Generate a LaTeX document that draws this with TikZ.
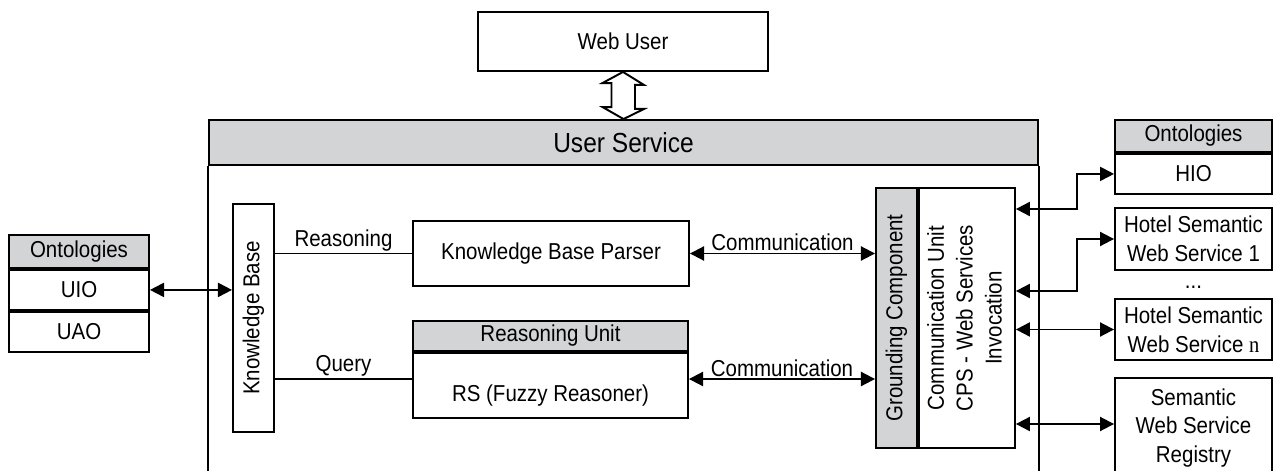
\documentclass[tikz,border=0pt]{standalone}
\usepackage{fontspec}
\setmainfont[FakeStretch=0.89]{Liberation Sans}
\newfontfamily\serifn[FakeStretch=0.89]{Liberation Serif}
\usetikzlibrary{arrows.meta}
\definecolor{hdrgray}{RGB}{211,212,214}
\tikzset{
  box/.style={draw, line width=1.1pt, inner sep=0pt, align=center, font=\fontsize{13.1}{16.4}\selectfont},
  hbox/.style={box, fill=hdrgray},
  link/.style={line width=1.1pt},
  bidir/.style={line width=1.1pt, {Triangle[length=8pt,width=8pt]}-{Triangle[length=8pt,width=8pt]}},
  tag/.style={font=\fontsize{13.1}{15}\selectfont, inner sep=1pt}
}
\begin{document}
\begin{tikzpicture}[x=0.02cm,y=-0.02cm]
\useasboundingbox (0,0) rectangle (1274,470);
\clip (0,0) rectangle (1274,470);

\node[box, minimum width=5.8cm, minimum height=1.18cm] (wu) at (623,41.5) {Web User};
\node[hbox, minimum width=16.58cm, minimum height=0.9cm, font=\fontsize{15.7}{18}\selectfont] (us) at (623.5,142.5) {User Service};
\draw[link] (us.south west) -- ++(0,400);
\draw[link] (us.south east) -- ++(0,400);
\draw[link, fill=white] (wu.south) -- ++(21,13) -- ++(-9,0) -- ++(0,24) -- ++(9,0) -- (us.north)
  -- ++(-21,-12) -- ++(9,0) -- ++(0,-24) -- ++(-9,0) -- cycle;

\node[hbox, minimum width=2.8cm, minimum height=0.66cm] (lont) at (79,251.5) {Ontologies};
\node[box, minimum width=2.8cm, minimum height=0.8cm, anchor=north] (uio) at (lont.south) {UIO};
\node[box, minimum width=2.8cm, minimum height=0.8cm, anchor=north] (uao) at (uio.south) {UAO};

\node[box, minimum width=0.82cm, minimum height=4.56cm] (kb) at (253.5,318) {\rotatebox{90}{Knowledge Base}};
\draw[bidir] (uio.east) -- (uio.east -| kb.west);

\node[box, minimum width=5.52cm, minimum height=1.3cm] (kbp) at (551,253.5) {Knowledge Base Parser};
\node[hbox, minimum width=5.5cm, minimum height=0.6cm] (ru) at (550.5,336) {Reasoning Unit};
\node[box, minimum width=5.5cm, minimum height=1.3cm, anchor=north] (rs) at (ru.south) {};
\node[tag] (rstxt) at (550.5,396) {RS (Fuzzy Reasoner)};

\node[hbox, minimum width=0.82cm, minimum height=5.2cm] (gc) at (896.5,318) {\rotatebox{90}{Grounding Component}};
\node[box, minimum width=1.92cm, minimum height=5.2cm, anchor=west] (cu) at (gc.east)
  {\rotatebox{90}{\begin{tabular}{@{}c@{}}Communication Unit\\CPS - Web Services\\Invocation\end{tabular}}};

\draw[link] (kb.east |- kbp.west) -- node[tag, above] {Reasoning} (kbp.west);
\draw[link] (kb.east |- 0,379) -- node[tag, above] {Query} (rs.west |- 0,379);
\draw[bidir] (kbp.east) -- node[tag, above] {Communication} (kbp.east -| gc.west);
\draw[bidir] (rs.east |- 0,379) -- node[tag, above] {Communication} (gc.west |- 0,379);

\node[hbox, minimum width=3.14cm, minimum height=0.64cm] (hont) at (1193.5,136) {Ontologies};
\node[box, minimum width=3.14cm, minimum height=0.8cm, anchor=north] (hio) at (hont.south) {HIO};
\node[box, minimum width=3.14cm, minimum height=1.24cm] (ws1) at (1193.5,239) {Hotel Semantic\\Web Service 1};
\node[tag] (dots) at (1193.5,287) {...};
\node[box, minimum width=3.14cm, minimum height=1.22cm] (wsn) at (1193.5,329.5) {Hotel Semantic\\Web Service {\serifn n}};
\node[box, minimum width=3.14cm, minimum height=2.0cm] (reg) at (1193.5,428) {Semantic\\Web Service\\Registry};

\draw[bidir] (cu.east |- 0,209) -- (1077,209) |- (hio.west);
\draw[bidir] (cu.east |- 0,291) -- (1077,291) |- (ws1.west);
\draw[bidir] (cu.east |- wsn.west) -- (wsn.west);
\draw[bidir] (cu.east |- 0,424) -- (reg.west |- 0,424);
\end{tikzpicture}
\end{document}
